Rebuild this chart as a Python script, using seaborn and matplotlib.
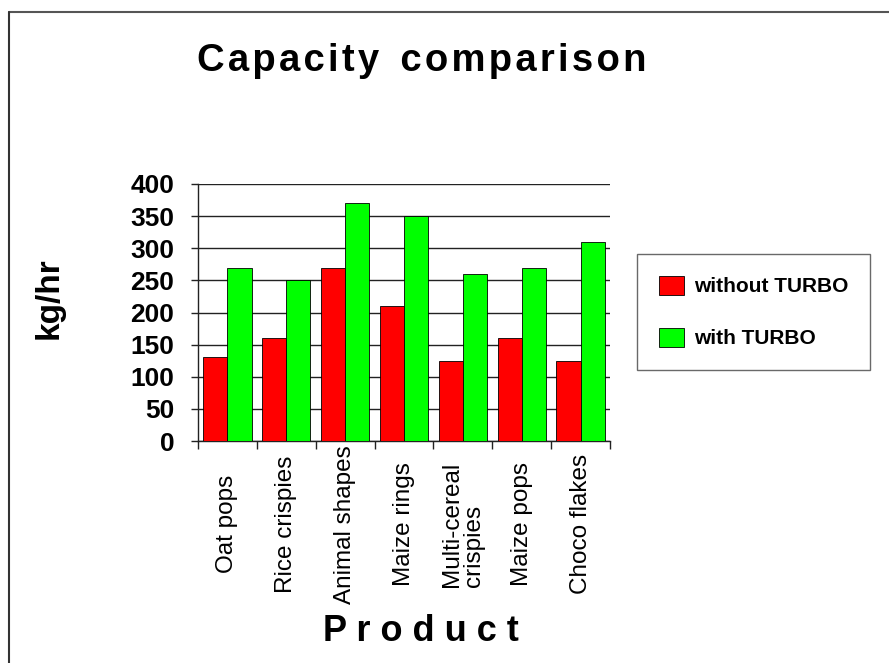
#!/usr/bin/env python3
"""Capacity comparison: kg/hr per product, with and without TURBO."""

import matplotlib
matplotlib.use("Agg")
import matplotlib.pyplot as plt
import numpy as np
import pandas as pd
import seaborn as sns
from matplotlib.lines import Line2D

PRODUCTS = [
    "Oat pops",
    "Rice crispies",
    "Animal shapes",
    "Maize rings",
    "Multi-cereal\ncrispies",
    "Maize pops",
    "Choco flakes",
]
WITHOUT_TURBO = [130, 160, 270, 210, 125, 160, 125]
WITH_TURBO = [270, 250, 370, 350, 260, 270, 310]
SERIES = ["without TURBO", "with TURBO"]
Y_TICKS = [0, 50, 100, 150, 200, 250, 300, 350, 400]


def spaced(text: str, gap: str = "\u200a") -> str:
    # poor man's letter spacing
    return gap.join(text)


def main() -> None:
    sns.set_style("white")
    plt.rcParams["font.family"] = ["Liberation Sans", "DejaVu Sans"]
    plt.rcParams["text.color"] = "black"
    plt.rcParams["xtick.color"] = "black"
    plt.rcParams["ytick.color"] = "black"

    df = pd.DataFrame(
        {
            "product": PRODUCTS * 2,
            "kg_hr": WITHOUT_TURBO + WITH_TURBO,
            "series": [SERIES[0]] * len(PRODUCTS) + [SERIES[1]] * len(PRODUCTS),
        }
    )
    palette = {SERIES[0]: "#ff0000", SERIES[1]: "#00ff00"}

    fig = plt.figure(figsize=(8.89, 6.63), dpi=100)
    ax = fig.add_axes([0.2227, 0.3348, 0.4635, 0.3877])

    sns.barplot(
        data=df,
        x="product",
        y="kg_hr",
        hue="series",
        hue_order=SERIES,
        palette=palette,
        saturation=1,
        width=0.82,
        edgecolor="black",
        linewidth=0.6,
        ax=ax,
        zorder=3,
    )

    n = len(PRODUCTS)
    ax.set_xlim(-0.5, n - 0.5)
    ax.set_ylim(0, 400)
    ax.set_yticks(Y_TICKS)
    ax.set_yticklabels([str(t) for t in Y_TICKS], fontsize=19, fontweight="heavy")
    ax.yaxis.grid(True, color="#222222", linewidth=1.0, zorder=0)
    ax.set_axisbelow(True)

    for side in ("top", "right"):
        ax.spines[side].set_visible(False)
    for side in ("left", "bottom"):
        ax.spines[side].set_color("#222222")
        ax.spines[side].set_linewidth(1.0)

    ax.tick_params(axis="y", left=True, length=5, width=1, color="#222222", pad=12)
    # category boundaries get the ticks, labels sit in the middle
    ax.set_xticks(np.arange(-0.5, n, 1.0), minor=True)
    ax.tick_params(axis="x", which="minor", bottom=True, length=6, width=1, color="#222222")
    ax.tick_params(axis="x", which="major", bottom=False, length=0, pad=60)
    ax.set_xticks(range(n))
    ax.set_xticklabels(PRODUCTS, rotation=90, fontsize=17.5, va="center",
                       ha="center", multialignment="left", linespacing=1.0)

    ax.set_xlabel("")
    ax.set_ylabel("")
    fig.text(0.474, 0.047, "P r o d u c t", ha="center", va="center",
             fontsize=26, fontweight="heavy")
    fig.text(0.055, 0.5505, "kg/hr", rotation=90, ha="center", va="center",
             fontsize=24, fontweight="heavy")
    fig.text(0.474, 0.908, spaced("Capacity") + "  " + spaced("comparison"),
             ha="center", va="center", fontsize=27.5, fontweight="heavy")

    handles, labels = ax.get_legend_handles_labels()
    ax.get_legend().remove()
    leg = fig.legend(
        handles,
        labels,
        loc="center",
        bbox_to_anchor=(0.8476, 0.5294),
        frameon=True,
        fancybox=False,
        prop={"size": 15, "weight": "bold"},
        handlelength=1.2,
        handleheight=1.06,
        handletextpad=0.5,
        labelspacing=1.5,
        borderpad=1.05,
        borderaxespad=0,
    )
    leg.get_frame().set_edgecolor("#444444")
    leg.get_frame().set_linewidth(1.0)

    # outer frame (only top and left visible in the reference)
    fig.add_artist(Line2D([0.0105, 1.0], [0.982, 0.982], color="#555555", linewidth=1.5))
    fig.add_artist(Line2D([0.0105, 0.0105], [0.0, 0.982], color="#333333", linewidth=1.5))

    fig.savefig("out.png", dpi=100)


if __name__ == "__main__":
    main()
